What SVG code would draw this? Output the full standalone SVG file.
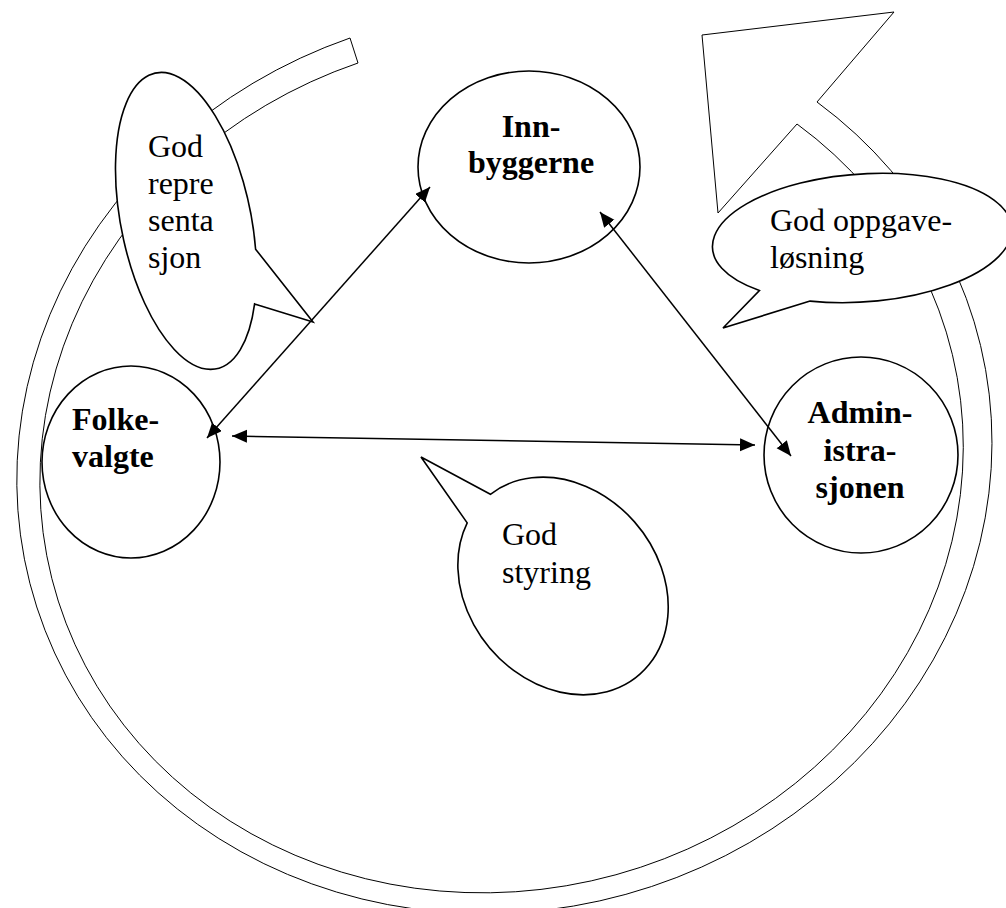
<svg xmlns="http://www.w3.org/2000/svg" width="1006" height="908" viewBox="0 0 1006 908">
<style>
.node{fill:#fff;stroke:#000;stroke-width:1.6}
.bub{fill:#fff;stroke:#000;stroke-width:1.6;stroke-linejoin:miter}
.band{fill:#fff;stroke:#000;stroke-width:1}
.con{fill:none;stroke:#000;stroke-width:1.5;marker-start:url(#ah);marker-end:url(#ah)}
.nt{font-family:"Liberation Serif","Times New Roman",serif;font-size:32px;font-weight:bold;fill:#000}
.bt{font-family:"Liberation Serif","Times New Roman",serif;font-size:32px;fill:#000}
</style>
<defs>
<marker id="ah" markerUnits="userSpaceOnUse" markerWidth="16" markerHeight="14" refX="15" refY="6.5" orient="auto-start-reverse">
<path d="M0,0 L15,6.5 L0,13 Z" fill="#000"/>
</marker>
</defs>
<rect width="1006" height="908" fill="#fff"/>
<g id="node-folkevalgte">
<ellipse class="node" cx="131" cy="462" rx="89" ry="96"/>
</g>
<g id="cycle-arrow">
<path class="band" d="M350,38 A490 450 -14.5 1 0 817,102 L894,12 L702,35 L718,213 L797,124 A464 426 -14.5 1 1 358,63 Z"/>
</g>
<g id="folkevalgte-label">
<text class="nt" x="72" y="430">Folke-</text>
<text class="nt" x="72" y="467">valgte</text>
</g>
<g id="node-innbyggerne">
<ellipse class="node" cx="529" cy="167" rx="111" ry="96"/>
<text class="nt" x="531" y="137" text-anchor="middle">Inn-</text>
<text class="nt" x="531" y="173" text-anchor="middle">byggerne</text>
</g>
<g id="node-administrasjonen">
<ellipse class="node" cx="861" cy="455" rx="97" ry="98"/>
<text class="nt" x="860" y="423" text-anchor="middle">Admin-</text>
<text class="nt" x="860" y="461" text-anchor="middle">istra-</text>
<text class="nt" x="860" y="498" text-anchor="middle">sjonen</text>
</g>
<g id="connectors">
<line class="con" x1="207" y1="438" x2="430" y2="187"/>
<line class="con" x1="232" y1="436" x2="755" y2="445"/>
<line class="con" x1="600" y1="212" x2="791" y2="456"/>
</g>
<g id="bubble-representasjon">
<path class="bub" d="M255.6,249.2 L313,322 L254.6,303.9 A65 151 -11.6 1 1 255.6,249.2 Z"/>
<text class="bt" x="148" y="157">God</text>
<text class="bt" x="148" y="194">repre</text>
<text class="bt" x="148" y="231">senta</text>
<text class="bt" x="148" y="268">sjon</text>
</g>
<g id="bubble-oppgavelosning">
<path class="bub" d="M810.1,301.1 L723,328 L759.4,290.5 A150 64 -4 1 1 810.1,301.1 Z"/>
<text class="bt" x="770" y="231">God oppgave-</text>
<text class="bt" x="770" y="268">løsning</text>
</g>
<g id="bubble-styring">
<path class="bub" d="M467.2,522.9 L421,457 L490.4,494.3 A96 117 -40 1 1 467.2,522.9 Z"/>
<text class="bt" x="502" y="545">God</text>
<text class="bt" x="502" y="583">styring</text>
</g>
</svg>
